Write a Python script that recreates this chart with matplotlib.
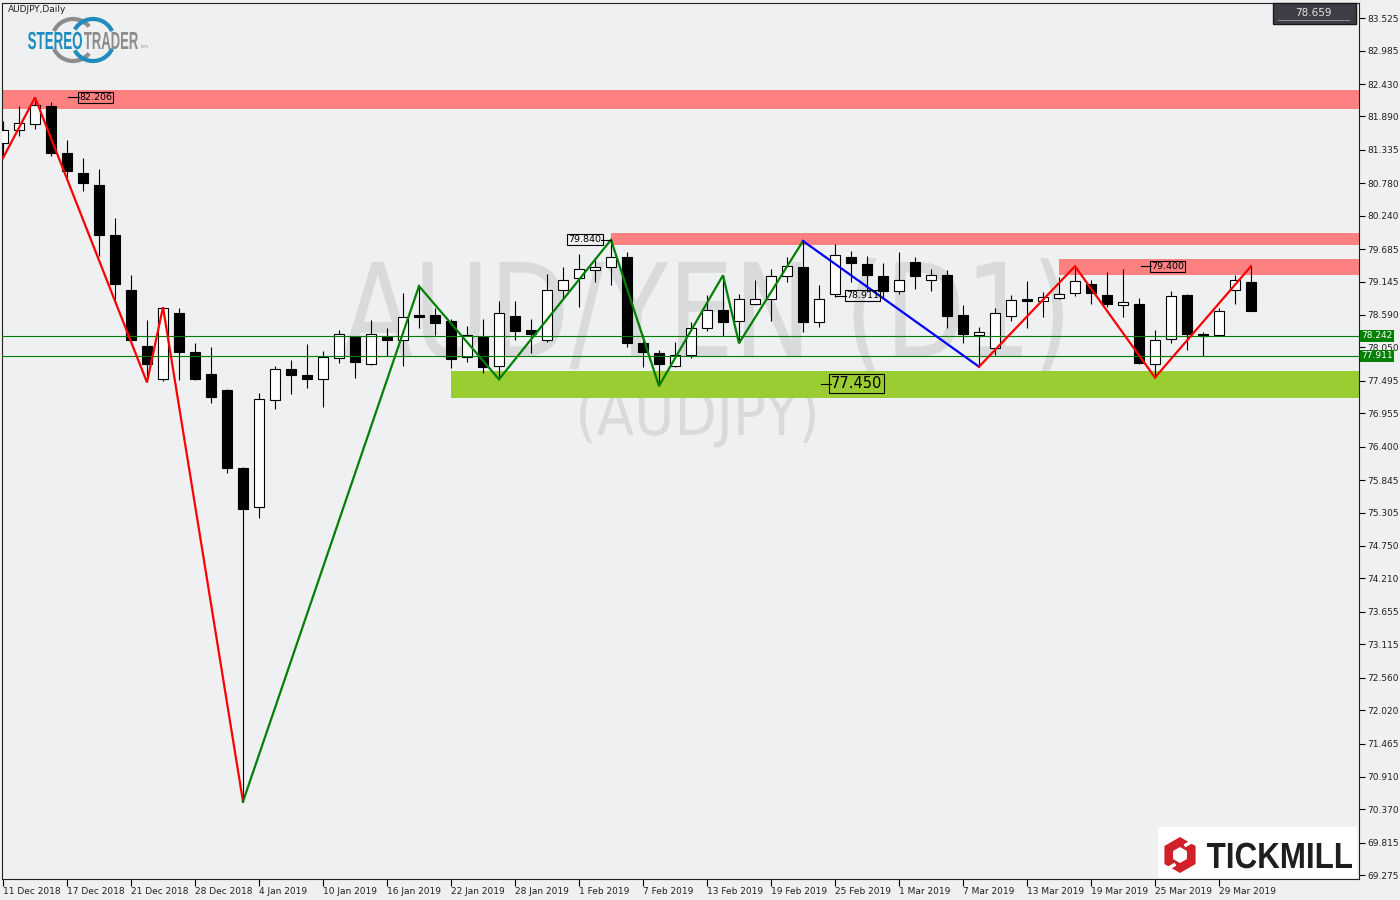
import numpy as np
import matplotlib
matplotlib.use("Agg")
import matplotlib.pyplot as plt
from matplotlib.transforms import Affine2D, IdentityTransform, blended_transform_factory
from matplotlib.textpath import TextPath
from matplotlib.font_manager import FontProperties
from matplotlib.patches import PathPatch, Rectangle, Arc, RegularPolygon

# ---- data (AUDJPY daily, 11 Dec 2018 .. 2 Apr 2019) ----
opens = [81.45, 81.66, 81.76, 82.06, 81.28, 80.95, 80.75, 79.92, 79.00, 78.07,
         77.52, 78.62, 77.97, 77.61, 77.34, 76.04, 75.40, 77.17, 77.70, 77.60,
         77.52, 77.88, 78.23, 77.78, 78.22, 78.18, 78.59, 78.59, 78.49, 77.89,
         78.23, 77.74, 78.58, 78.34, 78.18, 79.00, 79.20, 79.34, 79.38, 79.55,
         78.13, 77.95, 77.74, 77.93, 78.37, 78.67, 78.49, 78.77, 78.85, 79.23,
         79.38, 78.47, 78.94, 79.56, 79.43, 79.24, 78.99, 79.47, 79.18, 79.25,
         78.59, 78.25, 78.04, 78.57, 78.85, 78.83, 78.88, 78.96, 79.10, 78.92,
         78.75, 78.78, 77.78, 78.19, 78.92, 78.27, 78.25, 79.01, 79.14]
highs = [81.82, 82.07, 82.206, 82.13, 81.50, 81.20, 81.02, 80.20, 79.25, 78.50,
         78.72, 78.70, 78.13, 78.06, 77.36, 76.06, 77.29, 77.74, 77.84, 78.10,
         77.99, 78.34, 78.24, 78.50, 78.37, 78.96, 79.07, 78.70, 78.52, 78.40,
         78.53, 78.83, 78.82, 78.52, 79.27, 79.38, 79.60, 79.52, 79.84, 79.64,
         78.25, 78.00, 78.14, 78.48, 78.92, 79.25, 78.94, 79.18, 79.35, 79.56,
         79.82, 79.09, 79.77, 79.65, 79.57, 79.46, 79.64, 79.56, 79.35, 79.33,
         78.75, 78.39, 78.70, 78.92, 79.15, 78.98, 79.22, 79.40, 79.18, 79.31,
         79.35, 78.87, 78.34, 78.99, 78.94, 78.31, 78.70, 79.25, 79.40]
lows = [81.20, 81.57, 81.68, 81.24, 80.87, 80.65, 79.57, 78.84, 78.15, 77.47,
        77.49, 77.51, 77.51, 77.13, 75.96, 70.50, 75.22, 77.02, 77.27, 77.38,
        77.06, 77.79, 77.54, 77.76, 77.91, 77.74, 78.38, 78.25, 77.71, 77.81,
        77.62, 77.52, 78.17, 77.95, 78.14, 78.85, 78.72, 79.14, 79.09, 78.05,
        77.73, 77.41, 77.72, 77.88, 78.33, 78.24, 78.12, 78.76, 78.49, 79.14,
        78.31, 78.39, 78.89, 79.14, 78.98, 78.88, 78.94, 79.03, 78.99, 78.38,
        78.13, 77.73, 77.92, 78.49, 78.37, 78.56, 78.85, 78.91, 78.78, 78.72,
        78.56, 77.78, 77.55, 78.12, 78.01, 77.91, 78.24, 78.78, 78.659]
closes = [81.67, 81.78, 82.08, 81.28, 80.98, 80.79, 79.92, 79.11, 78.18, 77.78,
          78.70, 77.98, 77.53, 77.23, 76.04, 75.37, 77.19, 77.70, 77.60, 77.53,
          77.89, 78.27, 77.81, 78.27, 78.18, 78.56, 78.56, 78.46, 77.86, 78.25,
          77.73, 78.62, 78.33, 78.27, 79.01, 79.18, 79.36, 79.38, 79.55, 78.12,
          77.98, 77.77, 77.93, 78.37, 78.68, 78.47, 78.85, 78.85, 79.23, 79.40,
          78.48, 78.85, 79.59, 79.46, 79.25, 78.99, 79.18, 79.23, 79.26, 78.58,
          78.27, 78.30, 78.62, 78.84, 78.82, 78.89, 78.94, 79.15, 78.96, 78.78,
          78.80, 77.79, 78.18, 78.91, 78.28, 78.24, 78.65, 79.18, 78.659]

date_labels = ["11 Dec 2018", "17 Dec 2018", "21 Dec 2018", "28 Dec 2018", "4 Jan 2019",
               "10 Jan 2019", "16 Jan 2019", "22 Jan 2019", "28 Jan 2019", "1 Feb 2019",
               "7 Feb 2019", "13 Feb 2019", "19 Feb 2019", "25 Feb 2019", "1 Mar 2019",
               "7 Mar 2019", "13 Mar 2019", "19 Mar 2019", "25 Mar 2019", "29 Mar 2019"]
price_ticks = [83.525, 82.985, 82.430, 81.890, 81.335, 80.780, 80.240, 79.685, 79.145,
               78.590, 78.050, 77.495, 76.955, 76.400, 75.845, 75.305, 74.750, 74.210,
               73.655, 73.115, 72.560, 72.020, 71.465, 70.910, 70.370, 69.815, 69.275]

# zigzag pivots: (bar index, 'H' = high / 'L' = low)
zz_red1 = [(0, 'L'), (2, 'H'), (9, 'L'), (10, 'H'), (15, 'L')]
zz_green = [(15, 'L'), (26, 'H'), (31, 'L'), (38, 'H'), (41, 'L'), (45, 'H'), (46, 'L'), (50, 'H')]
zz_blue = [(50, 'H'), (61, 'L')]
zz_red2 = [(61, 'L'), (67, 'H'), (72, 'L'), (78, 'H')]

# zones: (start bar, lower price, upper price)
res_zones = [(-1, 82.02, 82.33), (38, 79.75, 79.96), (66, 79.25, 79.52)]
sup_zone = (28, 77.21, 77.66)
hlines = [78.242, 77.911]
last_price = 78.659

W, H = 1400, 900
BG = '#EFF0F2'
FONT = 'DejaVu Sans'

opens, highs, lows, closes = map(np.array, (opens, highs, lows, closes))
n = len(opens)
idx = np.arange(n)

fig = plt.figure(figsize=(W / 100, H / 100), dpi=100, facecolor=BG)
ax = fig.add_axes([2 / W, 21 / H, 1357 / W, 876 / H])
ax.set_facecolor(BG)


def fit_text(s, x0, x1, y_cap, y_base, color, family=FONT, weight='normal', zorder=1):
    """text as a path stretched into a pixel box (y measured from the top)"""
    prop = FontProperties(family=family, weight=weight)
    tp = TextPath((0, 0), s, size=1, prop=prop)
    ext = tp.get_extents()
    cap = TextPath((0, 0), 'H', size=1, prop=prop).get_extents().y1
    sx = (x1 - x0) / ext.width
    sy = (y_base - y_cap) / cap
    tr = Affine2D().translate(-ext.x0, 0).scale(sx, sy).translate(x0, H - y_base)
    return PathPatch(tp, transform=tr, fc=color, ec='none', lw=0, zorder=zorder)


# watermark
ax.add_patch(fit_text("AUD/YEN (D1)", 343, 1063, 262, 357, '#D9DADC', zorder=0.5))
ax.add_patch(fit_text("(AUDJPY)", 580, 815, 390, 435, '#D9DADC', zorder=0.5))

# zones
xmax = n + 6
for x0, lo, hi in res_zones:
    ax.fill_between([x0, xmax], lo, hi, color='#FF8080', lw=0, zorder=1)
ax.fill_between([sup_zone[0], xmax], sup_zone[1], sup_zone[2], color='#9ACD32', lw=0, zorder=1)

# candles
up = closes >= opens
ax.vlines(idx, lows, highs, color='black', lw=0.8, zorder=3)
ax.bar(idx, np.abs(closes - opens), bottom=np.minimum(opens, closes), width=0.62,
       color=np.where(up, 'white', 'black'), edgecolor='black', linewidth=0.8, zorder=4)

for y in hlines:
    ax.axhline(y, color='#008000', lw=0.8, zorder=4.5)


def zz_points(piv):
    xs = [i for i, _ in piv]
    ys = [highs[i] if k == 'H' else lows[i] for i, k in piv]
    return xs, ys


for piv, col in [(zz_red1, '#FF0000'), (zz_green, '#008000'), (zz_blue, '#0000FF'), (zz_red2, '#FF0000')]:
    xs, ys = zz_points(piv)
    ax.plot(xs, ys, color=col, lw=1.6, zorder=5, solid_joinstyle='miter')

# price labels with dash
box = dict(boxstyle='square,pad=0.12', fc='none', ec='black', lw=0.8)
price_labels = [("82.206", 4.06, 4.75, highs[2], 'left', 6.8),
                ("79.840", 38.0, 37.4, highs[38], 'right', 6.8),
                ("78.911", 52.0, 52.7, 78.911, 'left', 6.8),
                ("79.400", 71.1, 71.75, 79.40, 'left', 6.8),
                ("77.450", 51.1, 51.75, 77.45, 'left', 10.5)]
for txt, xa, xb, yv, ha, fs in price_labels:
    ax.plot([xa, xb], [yv, yv], color='black', lw=0.8, zorder=6)
    ax.text(xb, yv, txt, ha=ha, va='center', fontsize=fs, family=FONT, color='black',
            bbox=box, zorder=6)

# axes / ticks
ax.set_xlim(-1 / 16, 84.75)
ax.set_ylim(69.213, 83.777)
ax.yaxis.tick_right()
ax.set_yticks(price_ticks)
ax.set_yticklabels([f"{v:.3f}" for v in price_ticks])
ax.set_xticks(range(0, 4 * len(date_labels), 4))
ax.set_xticklabels(date_labels)
for lbl in ax.get_xticklabels():
    lbl.set_horizontalalignment('left')
ax.tick_params(axis='y', direction='out', length=4, width=0.8, pad=2,
               labelsize=6.5, labelcolor='#202020')
ax.tick_params(axis='x', direction='out', length=5, width=0.8, pad=1,
               labelsize=6.5, labelcolor='#202020')
for sp in ax.spines.values():
    sp.set_color('#222222')
    sp.set_linewidth(0.8)

# green price tags on the axis
btr = blended_transform_factory(ax.transAxes, ax.transData)
for y in hlines:
    ax.text(1.0015, y, f"{y:.3f}", transform=btr, ha='left', va='center', fontsize=6.5,
            family=FONT, color='white', clip_on=False, zorder=10,
            bbox=dict(boxstyle='square,pad=0.15', fc='#008000', ec='none'))

# header
fig.text(8 / W, 1 - 10 / H, "AUDJPY,Daily", fontsize=6.5, family=FONT, color='#202020', va='center')

# current price box
fig.add_artist(Rectangle((1273, H - 24), 83, 21, transform=IdentityTransform(),
                         fc='#3d3d45', ec='#1a1a1a', lw=1, zorder=5))
fig.add_artist(Rectangle((1278, H - 21), 72, 0.8, transform=IdentityTransform(),
                         fc='#8a8a90', ec='none', zorder=6))
fig.text(1313 / W, 1 - 12.5 / H, f"{last_price:.3f}", fontsize=7.5, family=FONT,
         color='#e8e8e8', ha='center', va='center', zorder=7)

# StereoTrader logo
for cx, col, spans in [(73, '#8C8C8C', [(40, 155), (205, 320)]),
                       (93, '#1E8CBE', [(25, 150), (210, 335)])]:
    for t1, t2 in spans:
        fig.add_artist(Arc((cx, H - 40), 42, 42, theta1=t1, theta2=t2,
                           transform=IdentityTransform(), color=col, lw=3))
fig.add_artist(fit_text("STEREO", 28, 82, 32, 49, '#1E8CBE', family='Liberation Sans',
                        weight='bold', zorder=3))
fig.add_artist(fit_text("TRADER", 84, 138, 32, 49, '#8C8C8C', family='Liberation Sans',
                        weight='bold', zorder=3))
fig.add_artist(fit_text("MT4", 141, 148, 45, 48, '#8C8C8C', family='Liberation Sans', zorder=3))

# Tickmill logo
fig.add_artist(Rectangle((1158, H - 878), 199, 51, transform=IdentityTransform(),
                         fc='white', ec='none', zorder=5))
fig.add_artist(RegularPolygon((1180, H - 855), 6, radius=18, orientation=0,
                              transform=IdentityTransform(), fc='#D0202A', ec='none', zorder=6))
fig.add_artist(RegularPolygon((1180, H - 855), 6, radius=8, orientation=0,
                              transform=IdentityTransform(), fc='white', ec='none', zorder=7))
for (xa, ya), (xb, yb) in [((1186, 845), (1198, 838)), ((1162, 872), (1174, 865))]:
    fig.add_artist(plt.Line2D([xa, xb], [H - ya, H - yb], transform=IdentityTransform(),
                              color='white', lw=2.5, zorder=7))
fig.add_artist(fit_text("TICKMILL", 1207, 1352, 843, 868, '#1E1E1E', family='Liberation Sans',
                        weight='bold', zorder=7))

fig.savefig("out.png", dpi=100, facecolor=BG)
